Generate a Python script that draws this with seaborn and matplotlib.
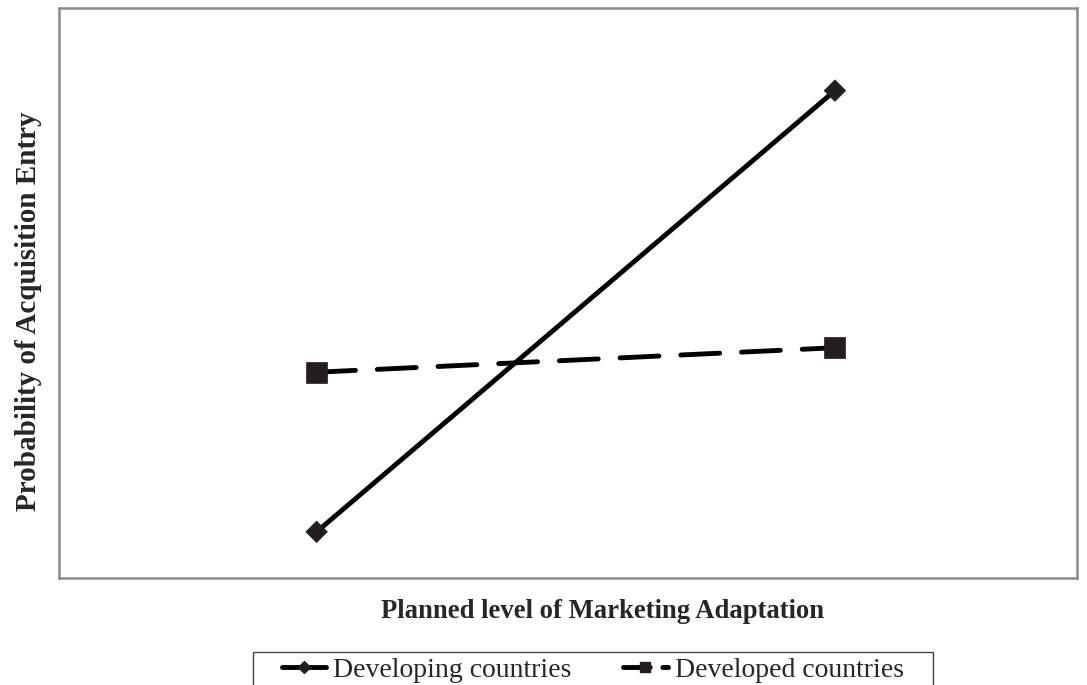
"""Interaction plot: marketing adaptation vs. acquisition entry."""
import pandas as pd
import seaborn as sns
from matplotlib import pyplot as plt
from matplotlib import lines, patches

# Data (arbitrary units)
levels = [0, 1]  # low / high planned adaptation
developing = [0.081, 0.855]
developed = [0.361, 0.404]
groups = ['Developing countries', 'Developed countries']

df = pd.DataFrame({
    'level': levels * 2,
    'prob': developing + developed,
    'group': [groups[0]] * 2 + [groups[1]] * 2,
})

sns.set_style('white')
plt.rcParams['font.family'] = ['Liberation Serif', 'DejaVu Serif']

W, H = 1087, 685
fig = plt.figure(figsize=(W / 100, H / 100), dpi=100)
ax = fig.add_axes([59 / W, 107 / H, 1018 / W, 570 / H])

ink = '#231f20'
lw = 3.5
sns.lineplot(
    df, x='level', y='prob', hue='group', style='group',
    palette={groups[0]: 'black', groups[1]: 'black'},
    dashes={groups[0]: '', groups[1]: (8.0, 4.5)},
    linewidth=lw, legend=False, ax=ax,
)
for ln in ax.get_lines():
    ln.set_dash_capstyle('round')
    ln.set_solid_capstyle('round')

# markers on top
sns.scatterplot(
    df, x='level', y='prob', style='group',
    markers={groups[0]: 'D', groups[1]: 's'},
    size='group', sizes={groups[0]: 120, groups[1]: 230},
    color=ink, edgecolor=ink, linewidth=0.5, legend=False, zorder=5, ax=ax,
)

ax.set_xlim(-0.497, 1.467)
ax.set_ylim(0, 1)
ax.set_xticks([])
ax.set_yticks([])
ax.set_xlabel('')
ax.set_ylabel('')
for sp in ax.spines.values():
    sp.set_color('#8a8a8a')
    sp.set_linewidth(1.8)

fig.text(603 / W, 1 - 612 / H, 'Planned level of Marketing Adaptation',
         ha='center', va='center', fontsize=19.2, fontweight='bold')
fig.text(29 / W, 1 - 311 / H, 'Probability of Acquisition Entry',
         ha='center', va='center', rotation=90, fontsize=21, fontweight='bold')

# legend box (cut off by the bottom edge, as in the original)
fig.patches.append(patches.Rectangle(
    (253 / W, -0.02), 680 / W, (H - 652) / H + 0.02, transform=fig.transFigure,
    facecolor='white', edgecolor='#444444', linewidth=1.0, clip_on=False,
))
handles = [
    lines.Line2D([0], [0], color='black', linewidth=lw, marker='D',
                 markersize=6.5, markerfacecolor=ink, markeredgecolor=ink),
    lines.Line2D([0], [0], color='black', linewidth=lw, marker='s',
                 markersize=7.5, markerfacecolor=ink, markeredgecolor=ink,
                 dashes=(5.5, 2.6), dash_capstyle='round'),
]
leg = fig.legend(
    handles, groups, loc='center left', bbox_to_anchor=(282 / W, 1 - 670 / H),
    ncol=2, frameon=False, fontsize=20, handlelength=1.6,
    handletextpad=0.25, columnspacing=1.85, borderpad=0, borderaxespad=0,
)

plt.savefig('out.png', dpi=100)
